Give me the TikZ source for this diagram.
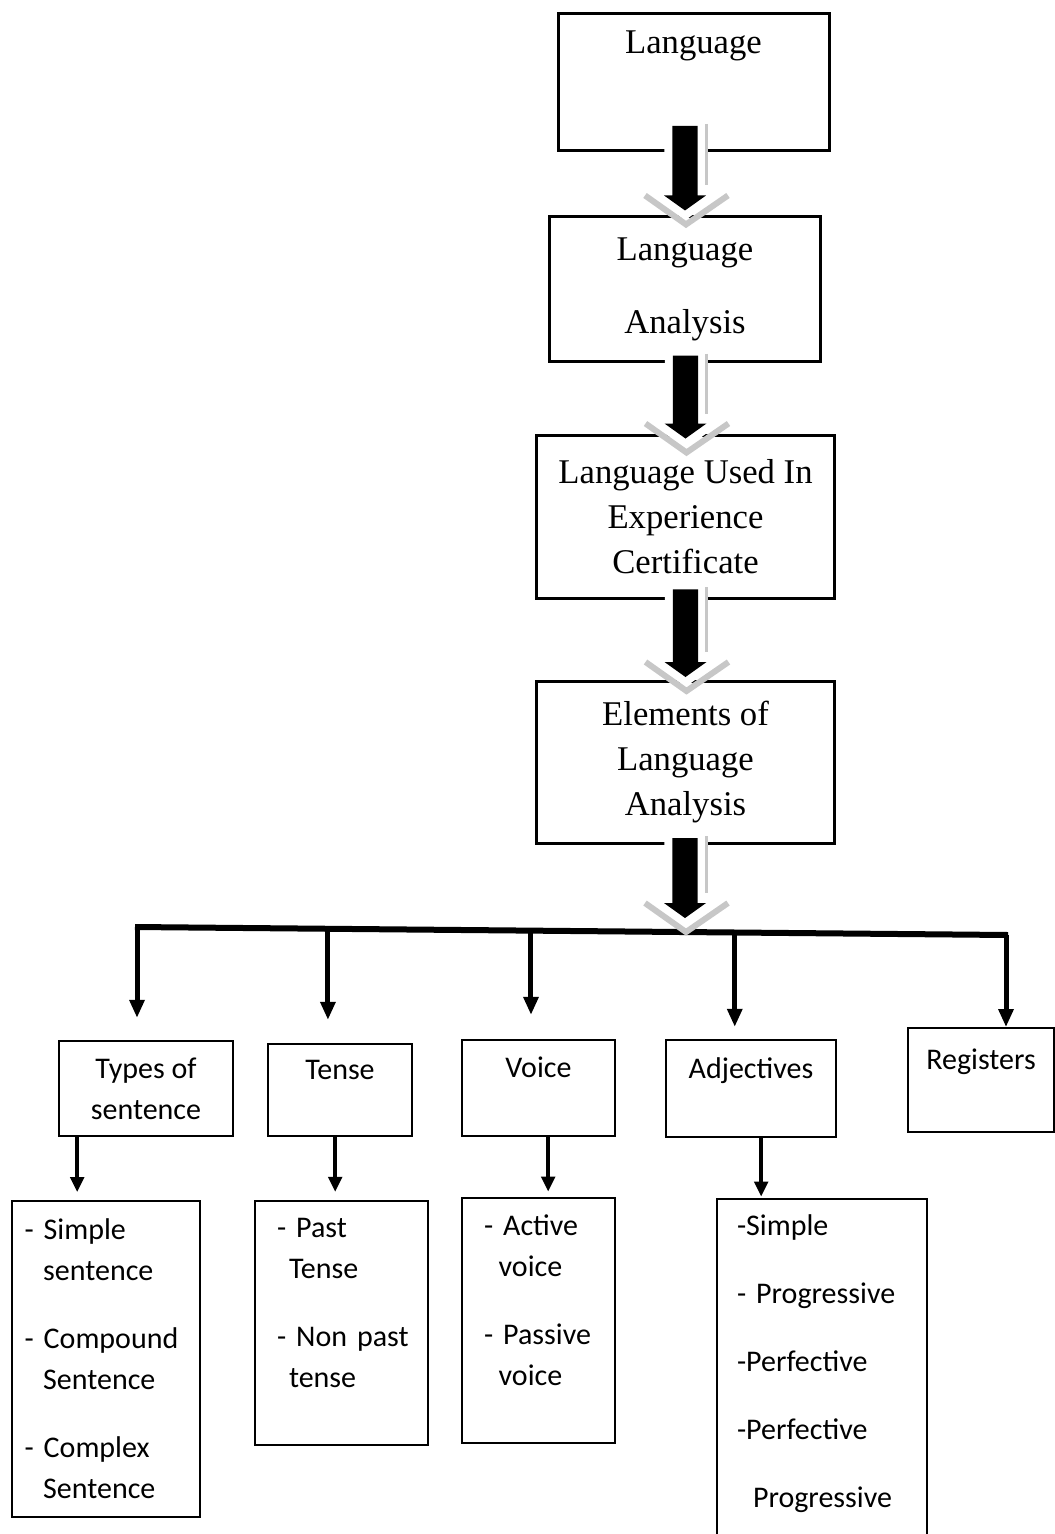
\documentclass[tikz,border=0pt]{standalone}
\usepackage{fontspec}
\setmainfont{Carlito}
\newfontfamily\timesfont{Liberation Serif}
\usetikzlibrary{positioning,calc,arrows.meta}

\protected\def\listfont{\fontsize{22.5pt}{30.75pt}\selectfont\spaceskip=0.23em\relax}

\tikzset{
  topbox/.style={draw, line width=2.25pt, inner sep=0pt, align=center,
    font=\timesfont\fontsize{26pt}{33.75pt}\selectfont},
  subbox/.style={draw, line width=1.2pt, inner sep=0pt, align=center,
    font=\fontsize{22.5pt}{30.75pt}\selectfont},
  listbox/.style={draw, line width=1.2pt, inner ysep=0pt, align=left, font=\listfont},
  busline/.style={line width=4.5pt},
  brancharrow/.style={line width=3.75pt, -{Triangle[width=12pt,length=13pt,line width=0pt]}},
  subarrow/.style={line width=3pt, -{Triangle[width=11pt,length=11pt,line width=0pt]}},
  ghost/.style={black!22},
}

% big block arrow: white halo, grey shadow, black body
\newcommand{\fatarrow}[2]{%
  \filldraw[white, line width=12pt] let \p1=(#1), \p2=(#2) in
    (\x2-9.4pt,\y1) -- (\x2+9.4pt,\y1) -- (\x2+9.4pt,\y2+11.25pt)
    -- (\x2+15.75pt,\y2+11.25pt) -- (\x2,\y2) -- (\x2-15.75pt,\y2+11.25pt)
    -- (\x2-9.4pt,\y2+11.25pt) -- cycle;
  \draw[ghost, line width=2.25pt] let \p1=(#1), \p2=(#2) in
    (\x2+16.1pt,\y1+1.5pt) -- (\x2+16.1pt,\y2+18.75pt);
  \draw[ghost, line width=4.5pt] let \p2=(#2) in
    (\x2-30pt,\y2+11.25pt) -- (\x2+0.75pt,\y2-10.5pt) -- (\x2+32.25pt,\y2+11.25pt);
  \fill let \p1=(#1), \p2=(#2) in
    (\x2-9.4pt,\y1) -- (\x2+9.4pt,\y1) -- (\x2+9.4pt,\y2+11.25pt)
    -- (\x2+15.75pt,\y2+11.25pt) -- (\x2,\y2) -- (\x2-15.75pt,\y2+11.25pt)
    -- (\x2-9.4pt,\y2+11.25pt) -- cycle;
}

\begin{document}
\begin{tikzpicture}[x=0.75pt, y=-0.75pt]
    \useasboundingbox (0,0) rectangle (1055,1534);

    % main chain
    \node[topbox, minimum width=203.25pt, minimum height=102.75pt] (lang) at (693.5,82.5) {Language\\[27pt]\mbox{}};
    \node[topbox, minimum width=203.25pt, minimum height=108.75pt] (anal) at (685,289) {Language\\[21pt]Analysis};
    \node[topbox, minimum width=223.5pt, minimum height=122.6pt] (used) at (685.5,516.75) {Language Used In\\Experience\\Certificate};
    \node[topbox, minimum width=223.5pt, minimum height=121.5pt] (elem) at (685.5,762.5) {Elements of\\Language\\Analysis};

    % elements
    \node[subbox, minimum width=130.5pt, minimum height=71.25pt] (types) at (146,1088.5) {Types of\\sentence};
    \node[subbox, minimum width=108pt, minimum height=69pt] (tense) at (340,1090) {Tense\\\mbox{}};
    \node[subbox, minimum width=114.75pt, minimum height=72pt] (voice) at (538.5,1088) {Voice\\\mbox{}};
    \node[subbox, minimum width=127.5pt, minimum height=72.75pt] (adj) at (751,1088.5) {Adjectives\\\mbox{}};
    \node[subbox, minimum width=109.5pt, minimum height=78pt] (reg) at (981,1080) {Registers\\\mbox{}};

    % sub lists
    \node[listbox, inner xsep=9.4pt, text width=122.2pt, minimum height=237pt] (typeslist) at (106,1359)
        {\mbox{- Simple}\\\hspace*{14pt}sentence\\[20.25pt]\mbox{- Compound}\\\hspace*{14pt}Sentence\\[20.25pt]\mbox{- Complex}\\\hspace*{14pt}Sentence};
    \node[listbox, inner xsep=16.5pt, text width=96.75pt, minimum height=183pt] (tenselist) at (341.5,1323)
        {\mbox{- Past}\\\hspace*{9pt}Tense\\[20.25pt]\mbox{- Non past}\\\hspace*{9pt}tense\\\mbox{}};
    \node[listbox, inner xsep=16.5pt, text width=81.75pt, minimum height=183.75pt] (voicelist) at (538.5,1320.5)
        {\mbox{- Active}\\\hspace*{11pt}voice\\[20.25pt]\mbox{- Passive}\\\hspace*{11pt}voice\\\mbox{}};
    \node[listbox, inner xsep=15pt, text width=127.5pt, minimum height=263.25pt] (adjlist) at (822,1374.5)
        {-Simple\\[20.25pt]\mbox{- Progressive}\\[20.25pt]-Perfective\\[20.25pt]-Perfective\\[20.25pt]\hspace*{12pt}Progressive\\[-10.75pt]\mbox{}};

    % bus
    \coordinate (barL) at (135,927);
    \coordinate (barR) at (1008,935);
    \coordinate (b1) at ($(barL)!0.0023!(barR)$);
    \coordinate (b2) at ($(barL)!0.221!(barR)$);
    \coordinate (b3) at ($(barL)!0.4536!(barR)$);
    \coordinate (b4) at ($(barL)!0.687!(barR)$);
    \coordinate (b5) at ($(barL)!0.9977!(barR)$);
    \coordinate (hub) at ($(barL)!0.630!(barR)$);

\draw[busline] (barL) -- (barR);
\draw[brancharrow] (b1) -- ([yshift=17.25pt]b1 |- types.north);
\draw[brancharrow] (b2) -- ([yshift=18pt]b2 |- tense.north);
\draw[brancharrow] (b3) -- ([yshift=18.75pt]b3 |- voice.north);
\draw[brancharrow] (b4) -- ([yshift=9.75pt]b4 |- adj.north);
\draw[brancharrow] (b5) -- ([yshift=0.6pt]b5 |- reg.north);

\draw[subarrow] ([xshift=14.25pt]types.south west) -- ([xshift=14.25pt,yshift=6.4pt]types.south west |- typeslist.north);
\draw[subarrow] ([xshift=51pt]tense.south west) -- ([xshift=51pt,yshift=6.5pt]tense.south west |- tenselist.north);
\draw[subarrow] ([xshift=65.25pt]voice.south west) -- ([xshift=65.25pt,yshift=4.5pt]voice.south west |- voicelist.north);
\draw[subarrow] ([xshift=72pt]adj.south west) -- ([xshift=72pt,yshift=1.5pt]adj.south west |- adjlist.north);

\fatarrow{[yshift=19.9pt]lang.south}{[yshift=3.4pt]anal.north}
\fatarrow{[yshift=5.6pt]anal.south}{[yshift=-3.75pt]used.north}
\fatarrow{[yshift=7.9pt]used.south}{[yshift=2.25pt]elem.north}
\fatarrow{[yshift=5.25pt]elem.south}{[yshift=10.5pt]hub}

\end{tikzpicture}
\end{document}
